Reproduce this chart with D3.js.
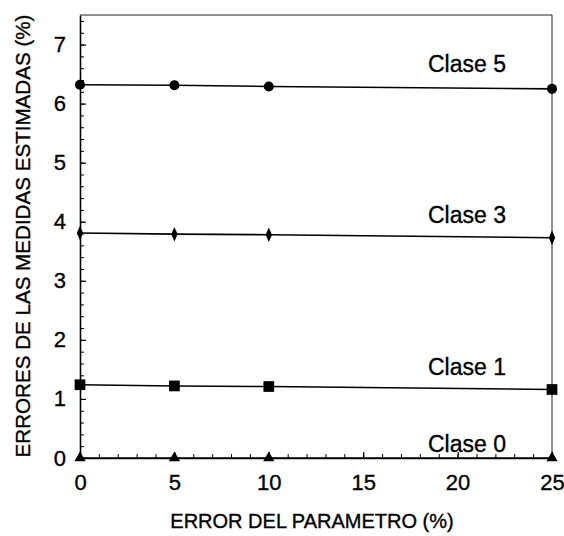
<!DOCTYPE html>
<html>
<head>
<meta charset="utf-8">
<script src="https://cdn.jsdelivr.net/npm/d3@7"></script>
<style>
  html, body { margin: 0; padding: 0; background: #fff; }
  svg text { font-family: "Liberation Sans", Arial, Helvetica, sans-serif; fill: #000; stroke: #000; stroke-width: 0.35px; }
</style>
</head>
<body>
<svg id="chart" width="564" height="536"></svg>
<script>
// Parameter error (%) on the x axis
const errorParametro = [0, 5, 10, 25];

// Estimated-measure error (%) for each class
const clase5 = [6.32, 6.31, 6.29, 6.25];
const clase3 = [3.81, 3.79, 3.78, 3.73];
const clase1 = [1.24, 1.22, 1.21, 1.16];
const clase0 = [0, 0, 0, 0];

const seriesNames = ["Clase 5", "Clase 3", "Clase 1", "Clase 0"];
const seriesSymbols = ["circle", "diamond", "square", "triangle"];

const xTickLabels = [0, 5, 10, 15, 20, 25];
const yTickLabels = [0, 1, 2, 3, 4, 5, 6, 7];

const xTitle = "ERROR DEL PARAMETRO (%)";
const yTitle = "ERRORES DE LAS MEDIDAS ESTIMADAS (%)";

const series = [clase5, clase3, clase1, clase0].map((vals, i) => ({
  name: seriesNames[i],
  symbol: seriesSymbols[i],
  points: vals.map((v, j) => ({ x: errorParametro[j], y: v }))
}));

const svg = d3.select("#chart");
const plotLeft = 80, plotRight = 552, plotTop = 15, plotBottom = 458;

const x = d3.scaleLinear().domain([0, 25]).range([plotLeft, plotRight]);
const y = d3.scaleLinear().domain([0, 7.5]).range([plotBottom, plotTop]);

// Frame: thin top and right edges
svg.append("path")
  .attr("d", `M${plotLeft},${plotTop}H${plotRight}V${plotBottom}`)
  .attr("fill", "none")
  .attr("stroke", "#222")
  .attr("stroke-width", 1);

// Y axis: inward minor ticks every 0.2, longer at whole numbers
const yMinor = d3.range(0, 7.5, 0.2).map(v => +v.toFixed(1));
svg.append("g")
  .attr("transform", `translate(${plotLeft},0)`)
  .call(d3.axisRight(y).tickValues(yMinor).tickFormat("").tickSizeOuter(0)
    .tickSize(4))
  .call(g => g.select(".domain").remove())
  .call(g => g.selectAll(".tick line").attr("stroke-width", 1));

svg.append("g")
  .attr("transform", `translate(${plotLeft},0)`)
  .call(d3.axisRight(y).tickValues(yTickLabels).tickFormat("").tickSizeOuter(0)
    .tickSize(6))
  .call(g => g.select(".domain").remove())
  .call(g => g.selectAll(".tick line").attr("stroke-width", 1.2));

svg.append("g")
  .attr("transform", `translate(${plotLeft},0)`)
  .call(d3.axisLeft(y).tickValues(yTickLabels).tickSize(0).tickPadding(14)
    .tickFormat(d3.format("d")).tickSizeOuter(0))
  .call(g => g.select(".domain").attr("stroke", "#000").attr("stroke-width", 1.6))
  .call(g => g.selectAll("text").style("font-size", "22px"));

// X axis: inward ticks every 1 unit, longer at labelled values
const xMinor = d3.range(0, 26, 1);
svg.append("g")
  .attr("transform", `translate(0,${plotBottom})`)
  .call(d3.axisTop(x).tickValues(xMinor).tickFormat("").tickSize(4).tickSizeOuter(0))
  .call(g => g.select(".domain").remove())
  .call(g => g.selectAll(".tick line").attr("stroke-width", 1));

svg.append("g")
  .attr("transform", `translate(0,${plotBottom})`)
  .call(d3.axisTop(x).tickValues(xTickLabels).tickFormat("").tickSize(6).tickSizeOuter(0))
  .call(g => g.select(".domain").remove())
  .call(g => g.selectAll(".tick line").attr("stroke-width", 1.2));

svg.append("g")
  .attr("transform", `translate(0,${plotBottom})`)
  .call(d3.axisBottom(x).tickValues(xTickLabels).tickSize(0).tickPadding(16)
    .tickFormat(d3.format("d")).tickSizeOuter(0))
  .call(g => g.select(".domain").attr("stroke", "#000").attr("stroke-width", 1.6))
  .call(g => g.selectAll("text").style("font-size", "22px"));

// Axis titles
svg.append("text")
  .attr("x", 312).attr("y", 528)
  .attr("text-anchor", "middle")
  .style("font-size", "20px")
  .text(xTitle);

svg.append("text")
  .attr("transform", "translate(30,236) rotate(-90)")
  .attr("text-anchor", "middle")
  .style("font-size", "20.6px")
  .text(yTitle);

// Series lines
const line = d3.line().x(d => x(d.x)).y(d => y(d.y));
svg.append("g").selectAll("path")
  .data(series)
  .join("path")
  .attr("d", d => line(d.points))
  .attr("fill", "none")
  .attr("stroke", "#000")
  .attr("stroke-width", 1.6);

// Markers
const symbolType = {
  circle: d3.symbolCircle,
  diamond: d3.symbolDiamond,
  square: d3.symbolSquare,
  triangle: d3.symbolTriangle
};
const symbolSize = { circle: 80, diamond: 55, square: 115, triangle: 55 };

series.forEach(s => {
  svg.append("g").selectAll("path")
    .data(s.points)
    .join("path")
    .attr("transform", d => `translate(${x(d.x)},${y(d.y)})` + (s.symbol === "diamond" ? " scale(0.8,1.05)" : ""))
    .attr("d", d3.symbol().type(symbolType[s.symbol]).size(symbolSize[s.symbol]))
    .attr("fill", "#000");
});

// Class labels above each line, near the right end
const labelBaselines = { "Clase 5": 72, "Clase 3": 223, "Clase 1": 375, "Clase 0": 452 };
svg.append("g").selectAll("text")
  .data(series)
  .join("text")
  .attr("x", 467)
  .attr("y", d => labelBaselines[d.name])
  .attr("text-anchor", "middle")
  .style("font-size", "23px")
  .text(d => d.name);
</script>
</body>
</html>
